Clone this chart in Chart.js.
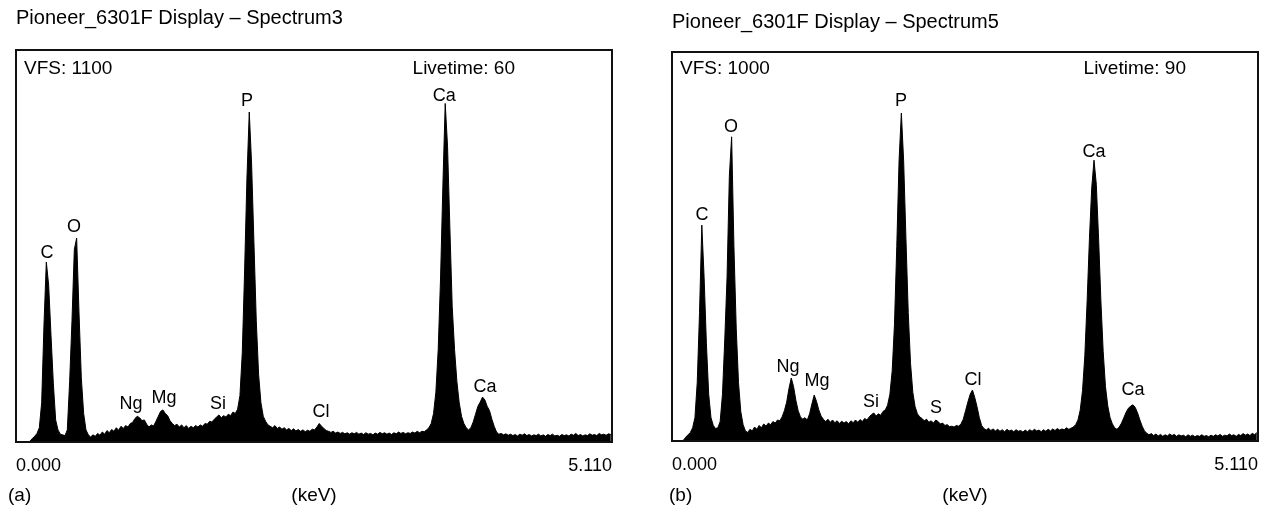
<!DOCTYPE html>
<html><head><meta charset="utf-8">
<script src="https://cdn.jsdelivr.net/npm/chart.js@4.4.0/dist/chart.umd.min.js"></script>
<style>
html,body{margin:0;padding:0;background:#fff;}
#wrap{position:relative;width:1272px;height:513px;overflow:hidden;}
canvas{position:absolute;top:0;}
</style></head><body>
<div id="wrap">
<canvas id="c1" width="636" height="513" style="left:0"></canvas>
<canvas id="c2" width="636" height="513" style="left:636px"></canvas>
</div>
<script>
// ---- data ----
const channelWidthKeV = 0.02;
const energyMin = 0;
const energyMax = 5.11;
const tickValues = [0, 5.11];
const tickLabels = ['0.000', '5.110'];

const spectrum3Counts = [
0,0,0,0,0,0,2,10,16,24,
40,110,330,505,440,300,165,62,34,22,
20,18,34,170,340,540,572,365,180,80,
34,20,14,20,16,24,19,28,22,32,
26,35,30,40,33,44,38,46,42,52,
55,66,72,68,60,62,50,42,48,45,
58,72,86,90,80,74,60,52,46,50,
42,48,40,46,38,44,40,46,42,48,
44,52,50,58,56,64,70,76,68,74,
70,78,74,84,80,92,130,250,480,740,
926,780,560,340,190,110,72,58,48,44,
40,46,38,42,36,40,34,38,32,37,
31,35,30,34,29,33,30,36,34,42,
52,44,38,32,30,27,30,25,28,24,
27,23,26,22,26,23,27,22,25,21,
26,22,24,20,25,22,27,23,26,22,
25,21,26,23,28,24,27,23,26,24,
28,25,30,26,30,29,34,40,52,80,
140,260,460,720,950,830,600,380,260,170,
110,72,52,40,34,40,56,78,100,112,
126,118,100,88,64,44,28,22,24,20,
23,19,22,18,21,17,22,19,23,18,
21,17,20,18,22,17,20,16,21,18,
22,17,19,16,21,18,20,17,22,19,
24,18,21,17,20,18,23,19,21,18,
24,20,22,19,23,21
];
const spectrum5Counts = [
0,0,0,0,0,2,10,16,22,34,
60,150,330,555,420,250,120,60,40,32,
34,50,120,260,420,680,782,500,290,150,
75,42,26,22,30,26,36,30,40,34,
44,38,46,42,50,46,54,52,62,78,
100,135,162,140,105,78,62,56,60,54,
70,95,118,102,80,64,56,50,56,48,
54,47,52,45,51,46,50,44,52,47,
54,48,55,50,58,54,62,68,72,64,
70,66,76,80,92,120,180,300,500,720,
843,720,520,330,200,125,88,70,62,58,
52,56,48,52,46,54,50,44,46,40,
42,37,38,36,40,38,44,56,78,100,
120,131,112,88,60,40,32,28,33,27,
31,26,30,25,29,24,30,26,28,24,
29,25,27,23,28,24,29,25,30,26,
28,24,29,25,30,26,31,27,32,28,
31,29,34,30,33,36,42,54,80,130,
220,360,520,650,722,660,520,360,230,140,
90,60,44,34,30,36,46,60,74,84,
90,93,86,72,54,38,26,20,16,19,
14,18,13,17,12,16,13,18,14,17,
12,16,13,15,11,16,12,15,11,14,
12,16,12,14,11,15,12,16,13,17,
12,15,13,18,14,16,12,17,14,19,
15,18,14,20,16,22
];

const spectrum3Elements = ['C','O','Ng','Mg','Si','P','Cl','Ca','Ca'];
const spectrum3ElementEnergy = [0.266,0.497,0.986,1.269,1.732,1.981,2.616,3.671,4.022];
const spectrum3ElementLabelCounts = [530,603,107,123,107,957,84,971,154];

const spectrum5Elements = ['C','O','Ng','Mg','Si','P','S','Cl','Ca','Ca'];
const spectrum5ElementEnergy = [0.262,0.514,1.011,1.264,1.735,1.997,2.302,2.624,3.679,4.019];
const spectrum5ElementLabelCounts = [581,807,190,154,100,874,85,157,743,131];

const spectrum3Title = 'Pioneer_6301F Display \u2013 Spectrum3';
const spectrum5Title = 'Pioneer_6301F Display \u2013 Spectrum5';
const spectrum3VFS = 1100, spectrum5VFS = 1000;
const spectrum3Live = 60, spectrum5Live = 90;
const axisTitle = '(keV)';

// ---- drawing ----
const FONT = '"Liberation Sans", Arial, Helvetica, sans-serif';
const FS_TITLE = 20, FS_TEXT = 19, FS_TICK = 18, FS_ELEM = 18;

function makePanel(id, p) {
  const textPlugin = {
    id: 'panelText' + id,
    afterDraw(chart) {
      const ctx = chart.ctx, ca = chart.chartArea;
      const xs = chart.scales.x, ys = chart.scales.y;
      ctx.save();
      ctx.strokeStyle = '#111';
      ctx.lineWidth = 2;
      ctx.strokeRect(ca.left, ca.top, ca.right - ca.left, ca.bottom - ca.top);
      ctx.fillStyle = '#000';
      ctx.textBaseline = 'middle';
      ctx.textAlign = 'left';
      ctx.font = FS_TITLE + 'px ' + FONT;
      ctx.fillText(p.title, ca.left, p.titleY);
      ctx.font = FS_TEXT + 'px ' + FONT;
      ctx.fillText('VFS: ' + p.vfs, ca.left + 8, 69);
      ctx.fillText(p.letter, ca.left + p.letterDx, 496);
      ctx.textAlign = 'right';
      ctx.fillText('Livetime: ' + p.live, ca.right - p.liveInset, 69);
      ctx.textAlign = 'center';
      ctx.font = FS_ELEM + 'px ' + FONT;
      p.names.forEach((n, i) => {
        ctx.fillText(n, xs.getPixelForValue(p.energies[i]), ys.getPixelForValue(p.labelCounts[i]));
      });
      ctx.restore();
    }
  };
  new Chart(document.getElementById(id), {
    type: 'line',
    data: {
      datasets: [{
        data: p.counts.map((c, i) => ({ x: i * channelWidthKeV, y: c })),
        fill: 'origin',
        backgroundColor: '#000',
        borderColor: '#000',
        borderWidth: 1,
        pointRadius: 0,
        tension: 0
      }]
    },
    options: {
      responsive: false,
      animation: false,
      events: [],
      layout: { padding: { left: p.padL, right: p.padR, top: p.padT, bottom: 0 } },
      plugins: { legend: { display: false }, tooltip: { enabled: false }, title: { display: false } },
      scales: {
        x: {
          type: 'linear', min: energyMin, max: energyMax,
          grid: { display: false, drawTicks: false },
          border: { display: false },
          afterBuildTicks: s => { s.ticks = tickValues.map(v => ({ value: v })); },
          afterFit: s => { s.height = p.bottomH; },
          ticks: {
            autoSkip: false, maxRotation: 0, minRotation: 0, align: 'inner', padding: 13,
            color: '#000', font: { family: FONT, size: FS_TICK },
            callback: (v, i) => tickLabels[i]
          },
          title: { display: true, text: axisTitle, color: '#000', font: { family: FONT, size: FS_TEXT }, padding: { top: 0, bottom: 6 } }
        },
        y: { display: false, min: 0, max: p.vfs }
      }
    },
    plugins: [textPlugin]
  });
}

makePanel('c1', {
  counts: spectrum3Counts, vfs: spectrum3VFS, live: spectrum3Live, title: spectrum3Title,
  names: spectrum3Elements, energies: spectrum3ElementEnergy, labelCounts: spectrum3ElementLabelCounts,
  padL: 16, padR: 24, padT: 50, bottomH: 71, titleY: 18, letter: '(a)', letterDx: -8, liveInset: 97
});
makePanel('c2', {
  counts: spectrum5Counts, vfs: spectrum5VFS, live: spectrum5Live, title: spectrum5Title,
  names: spectrum5Elements, energies: spectrum5ElementEnergy, labelCounts: spectrum5ElementLabelCounts,
  padL: 36, padR: 14, padT: 52, bottomH: 72, titleY: 22, letter: '(b)', letterDx: -3, liveInset: 72
});
</script>
</body></html>
